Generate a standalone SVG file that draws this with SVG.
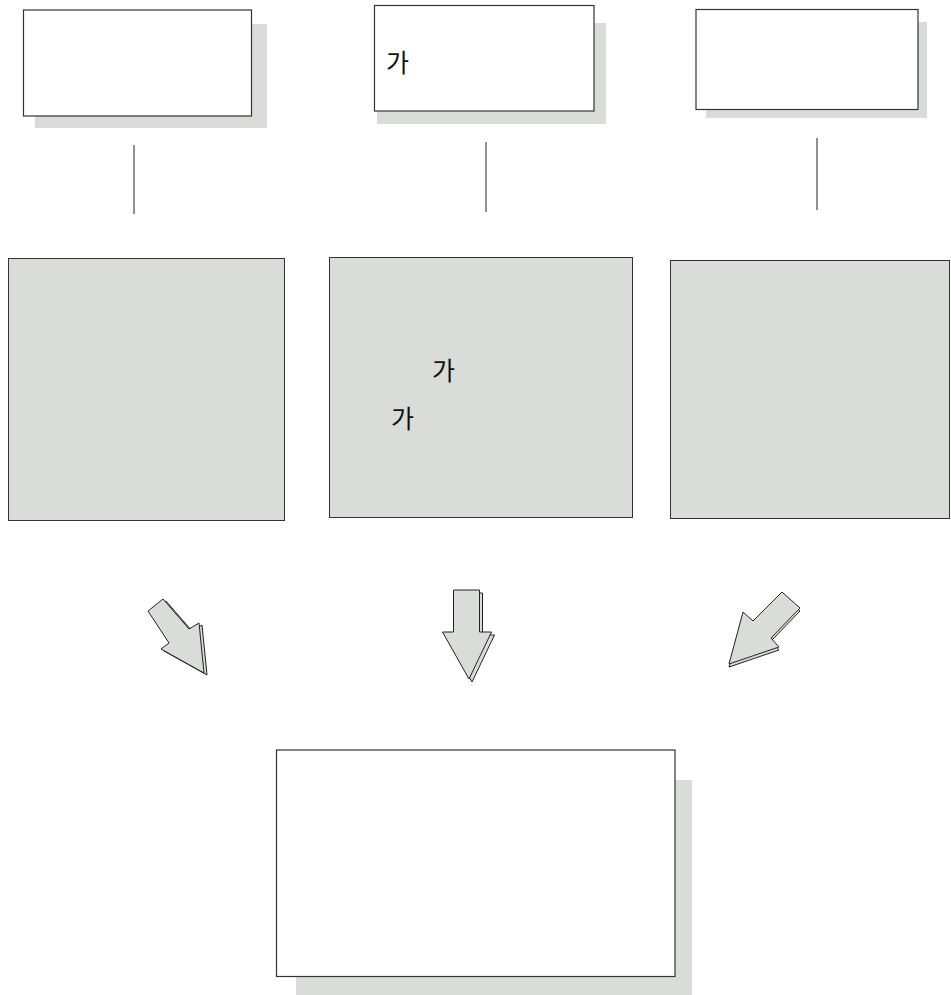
<svg xmlns="http://www.w3.org/2000/svg" width="951" height="995" viewBox="0 0 951 995">
<style>
.box{fill:#ffffff;stroke:#333333;stroke-width:1.2}
.gbox{fill:#d9dcd9;stroke:#333333;stroke-width:1}
.shadow{fill:#d9dcd9;stroke:none}
.arrow{fill:#d9dcd9;stroke:#222222;stroke-width:1;stroke-linejoin:miter}
.conn{stroke:#222222;stroke-width:1;fill:none}
.t{font-family:"Noto Sans CJK KR","Noto Sans",sans-serif;font-size:25px;fill:#111111}
</style>
<rect width="951" height="995" fill="#ffffff"/>
<g id="box-top-left">
<rect class="shadow" x="35" y="24" width="232" height="104"/>
<rect class="box" x="23.5" y="10" width="228" height="106"/>
</g>
<g id="box-top-middle">
<rect class="shadow" x="377" y="23" width="229" height="101"/>
<rect class="box" x="374.5" y="5.5" width="219.5" height="105.5"/>
<text class="t" x="386" y="72">가</text>
</g>
<g id="box-top-right">
<rect class="shadow" x="706" y="22" width="221" height="96"/>
<rect class="box" x="696" y="9.5" width="222" height="100"/>
</g>
<g id="connectors">
<line class="conn" x1="134" y1="145" x2="134" y2="214"/>
<line class="conn" x1="486" y1="142" x2="486" y2="212"/>
<line class="conn" x1="817" y1="138" x2="817" y2="210"/>
</g>
<g id="panel-left">
<rect class="gbox" x="8.5" y="258.5" width="276" height="262"/>
</g>
<g id="panel-middle">
<rect class="gbox" x="329.5" y="257.5" width="303" height="260"/>
<text class="t" x="432" y="380">가</text>
<text class="t" x="391" y="428">가</text>
</g>
<g id="panel-right">
<rect class="gbox" x="670.5" y="260.5" width="279" height="258"/>
</g>
<g id="arrow-left">
<polygon class="arrow" transform="translate(3,2)" points="148,611 163,599 189,629 199,623 204,673 161,649 169,643"/>
<polygon class="arrow" points="148,611 163,599 189,629 199,623 204,673 161,649 169,643"/>
</g>
<g id="arrow-middle">
<polygon class="arrow" transform="translate(3,3)" points="453.5,590 479.5,590 479.5,632 491.5,632 469,679 442.5,632 453.5,632"/>
<polygon class="arrow" points="453.5,590 479.5,590 479.5,632 491.5,632 469,679 442.5,632 453.5,632"/>
</g>
<g id="arrow-right">
<polygon class="arrow" transform="translate(0,3)" points="782,592 800,608 771,638 779,647 729,664 743,612 753,621"/>
<polygon class="arrow" points="782,592 800,608 771,638 779,647 729,664 743,612 753,621"/>
</g>
<g id="box-bottom">
<rect class="shadow" x="296" y="780" width="396" height="215"/>
<rect class="box" x="276.5" y="750" width="398.5" height="226.5"/>
</g>
</svg>
